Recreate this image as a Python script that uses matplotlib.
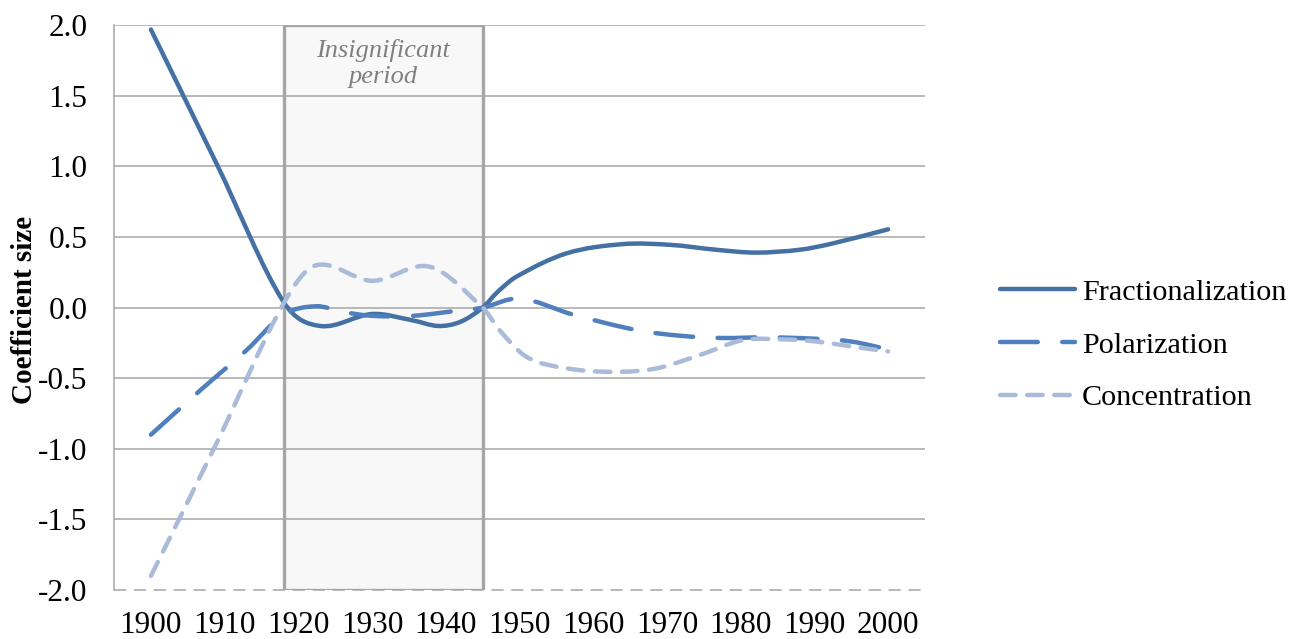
"""Coefficient size over time, with the insignificant period shaded."""

import matplotlib

matplotlib.use("Agg")

import matplotlib.pyplot as plt
import numpy as np
from matplotlib.lines import Line2D
from matplotlib.patches import PathPatch, Rectangle
from matplotlib.path import Path

# values
frac_years = [1900, 1909, 1918, 1923, 1930, 1935.5, 1939, 1942, 1945, 1947, 1949.6,
              1956.4, 1964, 1970.4, 1976.7, 1982, 1988, 1992.5, 2000]
frac_vals = [1.97, 1.01, 0.04, -0.13, -0.045, -0.09, -0.13, -0.10, 0.0, 0.11, 0.22,
             0.385, 0.45, 0.445, 0.41, 0.39, 0.41, 0.455, 0.555]

polar_years = [1900, 1906.6, 1913, 1918, 1922.4, 1926, 1930, 1935.5, 1941.8, 1945,
               1950, 1957.3, 1966, 1972, 1977.6, 1983.5, 1990, 1995, 2000]
polar_vals = [-0.90, -0.59, -0.30, -0.05, 0.01, -0.03, -0.058, -0.058, -0.02, 0.0,
              0.065, -0.05, -0.16, -0.20, -0.215, -0.21, -0.22, -0.24, -0.295]

conc_years = [1900, 1909, 1918, 1922.4, 1930, 1937.8, 1945, 1947.3, 1951, 1956.4,
              1963, 1968.6, 1974.5, 1980.3, 1985.8, 1990.3, 1995, 2000]
conc_vals = [-1.90, -0.95, 0.03, 0.30, 0.19, 0.29, 0.0, -0.16, -0.35, -0.43,
             -0.455, -0.43, -0.335, -0.23, -0.225, -0.24, -0.275, -0.31]

year_ticks = list(range(1900, 2001, 10))
y_ticks = [2.0, 1.5, 1.0, 0.5, 0.0, -0.5, -1.0, -1.5, -2.0]
period = (1918, 1945)

labels = ["Fractionalization", "Polarization", "Concentration"]
colors = ["#4470a3", "#4f7fbc", "#a9bbd8"]
dashes = [None, (8.5, 5.5), (3.5, 2.6)]

SERIF = ["Liberation Serif", "DejaVu Serif"]
LW = 3.2


def smooth_path(xs, ys):
    """Cubic Hermite through the points (slopes from neighbours), as Bezier segments."""
    x = np.asarray(xs, float)
    y = np.asarray(ys, float)
    m = np.empty_like(y)
    m[1:-1] = (y[2:] - y[:-2]) / (x[2:] - x[:-2])
    m[0] = (y[1] - y[0]) / (x[1] - x[0])
    m[-1] = (y[-1] - y[-2]) / (x[-1] - x[-2])
    verts = [(x[0], y[0])]
    codes = [Path.MOVETO]
    for i in range(len(x) - 1):
        h = (x[i + 1] - x[i]) / 3
        verts += [(x[i] + h, y[i] + m[i] * h),
                  (x[i + 1] - h, y[i + 1] - m[i + 1] * h),
                  (x[i + 1], y[i + 1])]
        codes += [Path.CURVE4] * 3
    return Path(verts, codes)


fig = plt.figure(figsize=(12.96, 6.39), dpi=100)
ax = fig.add_axes([0.088, 0.0767, 0.6257, 0.8837])
ax.set_xlim(1895, 2005)
ax.set_ylim(-2.0, 2.0)

ax.add_patch(Rectangle((period[0], -2.0), period[1] - period[0], 4.0,
                       facecolor="#f8f8f8", edgecolor="none", zorder=0.5))
for yv in y_ticks[:-1]:
    ax.axhline(yv, color="#a6a6a6", lw=1.1, zorder=1)
ax.axhline(-2.0, color="#a6a6a6", lw=1.1, dashes=(8, 5), zorder=1, clip_on=False)
ax.add_patch(Rectangle((period[0], -2.0), period[1] - period[0], 4.0,
                       facecolor="none", edgecolor="#a6a6a6", lw=2.4, zorder=1.5))
ax.text(sum(period) / 2, 1.73, "Insignificant\nperiod", ha="center", va="center",
        fontsize=19, style="italic", color="#7f7f7f", family=SERIF,
        linespacing=1.2)

for xs, ys, c, d in zip([frac_years, polar_years, conc_years],
                        [frac_vals, polar_vals, conc_vals], colors, dashes):
    patch = PathPatch(smooth_path(xs, ys), facecolor="none", edgecolor=c,
                      lw=LW, capstyle="round", joinstyle="round", zorder=3)
    if d is not None:
        patch.set_linestyle((0, d))
    ax.add_patch(patch)

for side in ["top", "right", "bottom"]:
    ax.spines[side].set_visible(False)
ax.spines["left"].set_color("#a6a6a6")
ax.spines["left"].set_linewidth(1.1)

ax.set_xticks(year_ticks)
ax.set_xticklabels([str(y) for y in year_ticks], family=SERIF, fontsize=22.5)
ax.set_yticks(y_ticks)
ax.set_yticklabels([f"{v:.1f}" for v in y_ticks], family=SERIF, fontsize=22.5)
ax.tick_params(axis="x", length=0, pad=15)
ax.tick_params(axis="y", length=0, pad=19)

fig.text(25 / 1296, 0.515, "Coefficient size", rotation=90, ha="center", va="center",
         fontsize=21, fontweight="bold", family=SERIF)

handles = []
for c, d in zip(colors, dashes):
    h = Line2D([], [], color=c, lw=LW, solid_capstyle="round", dash_capstyle="round")
    if d is not None:
        h.set_dashes(d)
    handles.append(h)
fig.legend(handles, labels, loc="center left", bbox_to_anchor=(1000 / 1296, 0.46),
           frameon=False, prop={"family": SERIF, "size": 21.7}, handlelength=2.5,
           handletextpad=0.22, labelspacing=0.85, borderpad=0, borderaxespad=0)

fig.savefig("out.png", dpi=100)
